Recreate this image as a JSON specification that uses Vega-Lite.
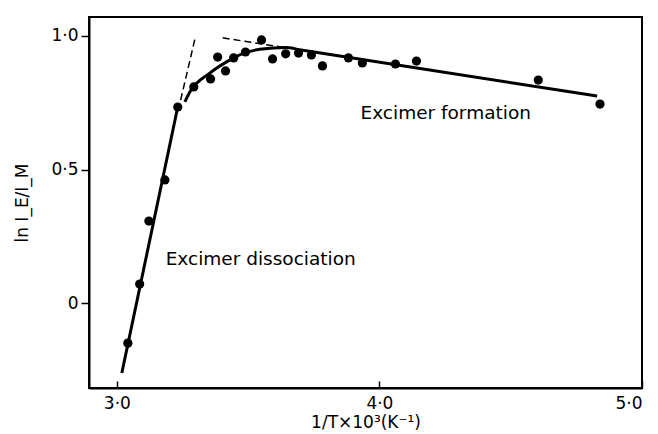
{
  "$schema": "https://vega.github.io/schema/vega-lite/v6.json",
  "width": 553,
  "height": 371,
  "autosize": {"type": "none"},
  "padding": {"left": 89, "top": 17, "right": 16, "bottom": 46},
  "background": "white",
  "config": {
    "view": {"stroke": "black", "strokeWidth": 2},
    "font": "DejaVu Sans",
    "axis": {
      "grid": false,
      "domainColor": "black",
      "domainWidth": 2,
      "tickColor": "black",
      "tickWidth": 1.5,
      "labelColor": "black",
      "labelFont": "DejaVu Sans",
      "labelFontSize": 17,
      "titleFont": "DejaVu Sans",
      "titleFontSize": 17,
      "titleFontWeight": "normal",
      "titleColor": "black"
    }
  },
  "encoding": {
    "x": {
      "field": "x", "type": "quantitative",
      "scale": {"domain": [2.894, 5.0], "nice": false, "zero": false},
      "axis": {
        "values": [3, 4, 5],
        "labelExpr": "replace(format(datum.value, '.1f'), '.', '·')",
        "tickSize": -7,
        "labelPadding": 14,
        "title": "1/T×10³(K⁻¹)",
        "titlePadding": 3
      }
    },
    "y": {
      "field": "y", "type": "quantitative",
      "scale": {"domain": [-0.318, 1.071], "nice": false, "zero": false},
      "axis": {
        "values": [0, 0.5, 1],
        "labelExpr": "datum.value == 0 ? '0' : replace(format(datum.value, '.1f'), '.', '·')",
        "tickSize": 8,
        "labelPadding": 3,
        "title": "ln I_E/I_M",
        "titlePadding": 19
      }
    }
  },
  "layer": [
    {
      "data": {"values": [
        {"x": 3.019, "y": -0.262, "seg": "dissoc"},
        {"x": 3.232, "y": 0.734, "seg": "dissoc"},
        {"x": 3.696, "y": 0.948, "seg": "form"},
        {"x": 4.829, "y": 0.775, "seg": "form"}
      ]},
      "mark": {"type": "line", "color": "black", "strokeWidth": 3},
      "encoding": {"detail": {"field": "seg"}}
    },
    {
      "data": {"values": [
        {"x": 3.259, "y": 0.753},
        {"x": 3.278, "y": 0.790},
        {"x": 3.354, "y": 0.861},
        {"x": 3.418, "y": 0.903},
        {"x": 3.479, "y": 0.934},
        {"x": 3.544, "y": 0.950},
        {"x": 3.646, "y": 0.957},
        {"x": 3.696, "y": 0.948}
      ]},
      "mark": {"type": "line", "color": "black", "strokeWidth": 3, "interpolate": "monotone"},
      "encoding": {}
    },
    {
      "data": {"values": [
        {"x": 3.243, "y": 0.760, "seg": "d1"},
        {"x": 3.300, "y": 1.000, "seg": "d1"},
        {"x": 3.403, "y": 0.993, "seg": "d2"},
        {"x": 3.650, "y": 0.955, "seg": "d2"}
      ]},
      "mark": {"type": "line", "color": "black", "strokeWidth": 1.5, "strokeDash": [7, 4]},
      "encoding": {"detail": {"field": "seg"}}
    },
    {
      "data": {"values": [
        {"x": 3.042, "y": -0.150},
        {"x": 3.087, "y": 0.071},
        {"x": 3.122, "y": 0.307},
        {"x": 3.183, "y": 0.461},
        {"x": 3.232, "y": 0.734},
        {"x": 3.293, "y": 0.809},
        {"x": 3.357, "y": 0.839},
        {"x": 3.384, "y": 0.921},
        {"x": 3.414, "y": 0.869},
        {"x": 3.445, "y": 0.918},
        {"x": 3.490, "y": 0.940},
        {"x": 3.551, "y": 0.985},
        {"x": 3.593, "y": 0.914},
        {"x": 3.643, "y": 0.933},
        {"x": 3.692, "y": 0.936},
        {"x": 3.741, "y": 0.929},
        {"x": 3.783, "y": 0.888},
        {"x": 3.882, "y": 0.918},
        {"x": 3.935, "y": 0.899},
        {"x": 4.061, "y": 0.895},
        {"x": 4.141, "y": 0.906},
        {"x": 4.605, "y": 0.835},
        {"x": 4.840, "y": 0.745}
      ]},
      "mark": {"type": "circle", "color": "black", "opacity": 1, "size": 85},
      "encoding": {}
    },
    {
      "data": {"values": [
        {"x": 3.928, "y": 0.712, "label": "Excimer formation"},
        {"x": 3.186, "y": 0.165, "label": "Excimer dissociation"}
      ]},
      "mark": {"type": "text", "align": "left", "baseline": "middle", "fontSize": 18.5, "color": "black", "font": "DejaVu Sans"},
      "encoding": {"text": {"field": "label"}}
    }
  ]
}
